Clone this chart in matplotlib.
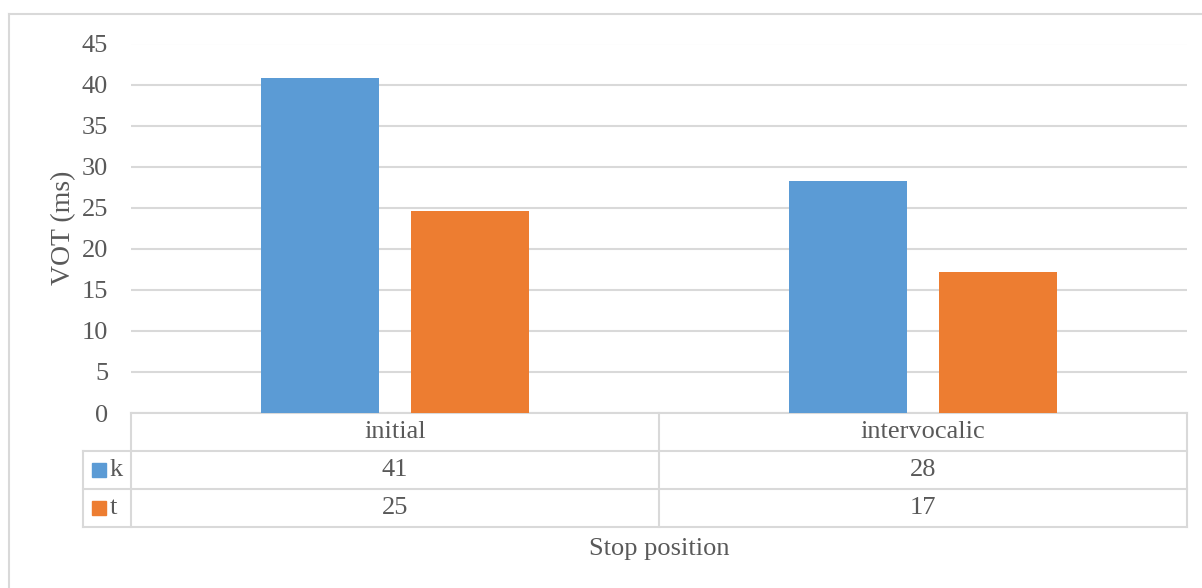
import matplotlib.pyplot as plt
from matplotlib.lines import Line2D
from matplotlib.patches import Rectangle

# VOT by stop position
positions = ["initial", "intervocalic"]
series = ["k", "t"]
k_vot = [40.8, 28.2]
t_vot = [24.6, 17.2]
colors = ["#5b9bd5", "#ed7d31"]

plt.rcParams['font.family'] = ['Liberation Serif', 'DejaVu Serif']
text_col = "#595959"
line_col = "#d9d9d9"
fs = 19

W, H = 1202, 588
fig = plt.figure(figsize=(W / 100, H / 100), dpi=100)

# plot area in pixels
left, right, top, bottom = 131, 1187, 43.5, 413
ax = fig.add_axes([left / W, 1 - bottom / H, (right - left) / W, (bottom - top) / H])

n = len(positions)
xc = [i + 0.5 for i in range(n)]
bw = 0.224
off = 0.142
ax.bar([x - off for x in xc], k_vot, bw, color=colors[0], zorder=3)
ax.bar([x + off for x in xc], t_vot, bw, color=colors[1], zorder=3)

ax.set_xlim(0, n)
ax.set_ylim(0, 45)
ax.set_yticks(range(0, 46, 5))
ax.set_xticks([])
ax.grid(axis="y", color=line_col, linewidth=1.5, zorder=0)
for s in ax.spines.values():
    s.set_visible(False)
ax.tick_params(axis="y", length=0, pad=16.5, labelsize=fs, labelcolor=text_col)
ax.set_ylabel("VOT (ms)", fontsize=20, color=text_col, labelpad=4)

# data table below the plot, row height 38px
row_h = 38 / (bottom - top)
leg_w = 48 / (right - left)
trans = ax.transAxes
lw = 1.5


def hline(x0, x1, y):
    ax.add_line(Line2D([x0, x1], [y, y], transform=trans, color=line_col,
                       lw=lw, clip_on=False))


def vline(x, y0, y1):
    ax.add_line(Line2D([x, x], [y0, y1], transform=trans, color=line_col,
                       lw=lw, clip_on=False))


hline(0, 1, 0)
for r in (1, 2, 3):
    hline(-leg_w, 1, -r * row_h)
for i in range(n + 1):
    vline(i / n, 0, -3 * row_h)
vline(-leg_w, -row_h, -3 * row_h)

for i, p in enumerate(positions):
    ax.text(xc[i] / n, -0.5 * row_h, p, transform=trans, ha="center",
            va="center", fontsize=fs, color=text_col)

for r, (name, vals, c) in enumerate(zip(series, [k_vot, t_vot], colors)):
    yc = -(r + 1.5) * row_h
    sq = 14 / (right - left)
    sqh = 14 / (bottom - top)
    ax.add_patch(Rectangle((-leg_w + 9 / (right - left), yc - sqh / 2), sq, sqh,
                           transform=trans, color=c, clip_on=False))
    ax.text(-leg_w + 27 / (right - left), yc, name, transform=trans, ha="left",
            va="center", fontsize=fs, color=text_col)
    for i, v in enumerate(vals):
        ax.text(xc[i] / n, yc, f"{v:.0f}", transform=trans, ha="center",
                va="center", fontsize=fs, color=text_col)

fig.text((left + right) / 2 / W, 1 - 549 / H, "Stop position", ha="center",
         va="center", fontsize=fs, color=text_col)

# chart border
fig.add_artist(Line2D([9 / W, 9 / W], [0, 1 - 14 / H], transform=fig.transFigure,
                      color=line_col, lw=1.5))
fig.add_artist(Line2D([9 / W, 1], [1 - 14 / H, 1 - 14 / H], transform=fig.transFigure,
                      color=line_col, lw=1.5))

fig.savefig("out.png", dpi=100)
